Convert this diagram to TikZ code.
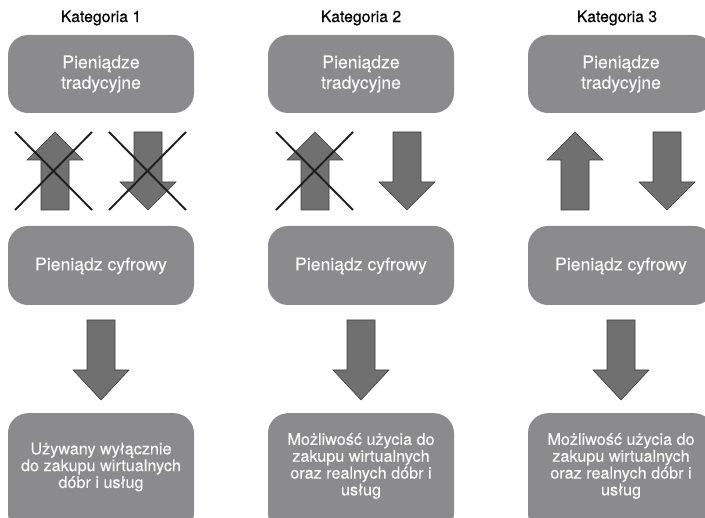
\documentclass[tikz,border=0pt]{standalone}
\usepackage{fontspec}
\setmainfont{TeX Gyre Heros}
\newfontfamily\heavyfont[FakeBold=0.35]{TeX Gyre Heros}
\definecolor{boxgray}{RGB}{139,139,141}
\definecolor{arrgray}{RGB}{112,112,112}
\definecolor{arrline}{RGB}{62,62,62}
\definecolor{boxtxt}{RGB}{248,248,248}
\begin{document}
\begin{tikzpicture}[x=1pt,y=-1pt,
  box/.style={fill=boxgray, rounded corners=20pt, minimum width=186pt, inner sep=0pt, draw=none},
  boxtext/.style={align=center, text=boxtxt, inner sep=0pt},
  bigtxt/.style={font=\heavyfont\fontsize{17.6}{20.5}\selectfont},
  smalltxt/.style={font=\heavyfont\fontsize{16.2}{16.8}\selectfont},
  title/.style={font=\heavyfont\fontsize{15.8}{18}\selectfont, text=black},
  blockarrow/.style={fill=arrgray, draw=arrline, line width=0.6pt},
  cross/.style={draw=black!88, line width=1.9pt},
  uparrow/.pic={\path[blockarrow] (-14,78)--(-14,28)--(-28,28)--(0,0)--(28,28)--(14,28)--(14,78)--cycle;},
  downarrow/.pic={\path[blockarrow] (-14,0)--(14,0)--(14,50)--(28,50)--(0,78)--(-28,50)--(-14,50)--cycle;},
  lowarrow/.pic={\path[blockarrow] (-14,0)--(14,0)--(14,50)--(28,50)--(0,80)--(-28,50)--(-14,50)--cycle;}
]
\useasboundingbox (0,0) rectangle (705,518);
\clip (0,0) rectangle (705,518);
% titles
\node[title] (k1) at (101,18) {Kategoria 1};
\node[title] (k2) at (361,18) {Kategoria 2};
\node[title] (k3) at (617,18) {Kategoria 3};
% boxes and lower arrows
\foreach \c/\n in {101/1,361/2,621/3}{
  \node[box, minimum height=78pt] (t\n) at (\c,74) {};
  \node[boxtext, bigtxt] (tt\n) at (\c,74) {Pieniądze\\tradycyjne};
  \node[box, minimum height=79pt] (m\n) at (\c,265.5) {};
  \node[boxtext, bigtxt] (mt\n) at (\c,266) {Pieniądz cyfrowy};
  \node[box, minimum height=120pt, anchor=north] (b\n) at (\c,413) {};
  \pic at (\c,320) {lowarrow};
}
\node[boxtext, smalltxt] (bt1) at (101,467) {Używany wyłącznie\\do zakupu wirtualnych\\dóbr i usług};
\node[boxtext, smalltxt] (bt2) at (361,466) {Możliwość użycia do\\zakupu wirtualnych\\oraz realnych dóbr i\\usług};
\node[boxtext, smalltxt] (bt3) at (621,466) {Możliwość użycia do\\zakupu wirtualnych\\oraz realnych dóbr i\\usług};
% middle arrows
\pic at (55,132) {uparrow};
\pic at (148,132) {downarrow};
\pic at (315,132) {uparrow};
\pic at (407,132) {downarrow};
\pic at (575,132) {uparrow};
\pic at (667,132) {downarrow};
% crosses
\coordinate (a1) at (15,132); \coordinate (a2) at (92,210);
\coordinate (a3) at (92,132); \coordinate (a4) at (15,210);
\draw[cross] (a1) -- (a2); \draw[cross] (a3) -- (a4);
\coordinate (c1) at (109,132); \coordinate (c2) at (186,210);
\coordinate (c3) at (186,132); \coordinate (c4) at (109,210);
\draw[cross] (c1) -- (c2); \draw[cross] (c3) -- (c4);
\coordinate (d1) at (276,132); \coordinate (d2) at (353,210);
\coordinate (d3) at (353,132); \coordinate (d4) at (276,210);
\draw[cross] (d1) -- (d2); \draw[cross] (d3) -- (d4);
\end{tikzpicture}
\end{document}
